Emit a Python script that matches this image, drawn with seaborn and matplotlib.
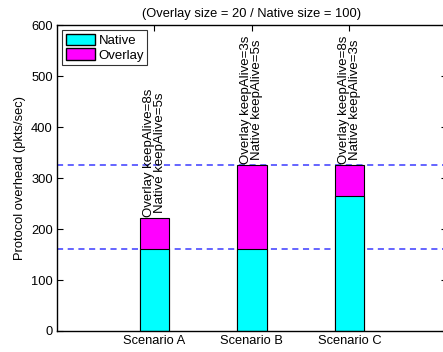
import matplotlib
matplotlib.use("Agg")
import matplotlib.pyplot as plt
import seaborn as sns
import pandas as pd
from matplotlib.patches import Patch

scenarios = ["Scenario A", "Scenario B", "Scenario C"]
native = [160, 160, 264]
overlay = [62, 166, 62]
bar_labels = [
    "Overlay keepAlive=8s\nNative keepAlive=5s",
    "Overlay keepAlive=3s\nNative keepAlive=5s",
    "Overlay keepAlive=8s\nNative keepAlive=3s",
]
ref_levels = [160, 326]
yticks = [0, 100, 200, 300, 400, 500, 600]

sns.set_style("ticks", {"text.color": "black", "axes.labelcolor": "black",
                        "xtick.color": "black", "ytick.color": "black",
                        "axes.edgecolor": "black"})
plt.rcParams["font.family"] = ["Liberation Sans", "DejaVu Sans"]
plt.rcParams["font.size"] = 9.3

df = pd.DataFrame({"scenario": scenarios, "native": native, "overlay": overlay})
df["total"] = df["native"] + df["overlay"]

fig = plt.figure(figsize=(4.43, 3.52), dpi=100)
ax = fig.add_axes([0.1287, 0.0597, 0.880, 0.869])

# Stacked bars: total (overlay colour) behind, native in front
sns.barplot(data=df, x="scenario", y="total", color="#ff00ff", saturation=1,
            width=0.3, edgecolor="black", linewidth=0.8, ax=ax)
sns.barplot(data=df, x="scenario", y="native", color="#00ffff", saturation=1,
            width=0.3, edgecolor="black", linewidth=0.8, ax=ax)

for lvl in ref_levels:
    ax.axhline(lvl, color="#3a3aff", linestyle=(0, (4.0, 3.0)), linewidth=1.1, zorder=0.5)

for i, (t, lab) in enumerate(zip(df["total"], bar_labels)):
    ax.text(i, t + 1, lab, rotation=90, ha="center", va="bottom",
            fontsize=9.5, linespacing=0.9, color="black")

ax.set_xlim(-1, 3)
ax.set_ylim(0, 600)
ax.set_yticks(yticks)
ax.set_xlabel("")
ax.set_ylabel("Protocol overhead (pkts/sec)", fontsize=9.3, labelpad=4)
ax.set_title("(Overlay size = 20 / Native size = 100)", fontsize=9.3, pad=6)
ax.tick_params(direction="in", length=4, width=0.8, top=True, right=True,
               labelsize=9.3, pad=3, colors="black")
for s in ax.spines.values():
    s.set_linewidth(1.0)
    s.set_color("black")
    s.set_visible(True)

handles = [Patch(facecolor="#00ffff", edgecolor="black", label="Native"),
           Patch(facecolor="#ff00ff", edgecolor="black", label="Overlay")]
leg = ax.legend(handles=handles, loc="upper left", fontsize=9.5, frameon=True,
                fancybox=False, edgecolor="black", borderpad=0.25,
                handlelength=2.2, handleheight=1.0, handletextpad=0.3,
                labelspacing=0.1, borderaxespad=0.4)
leg.get_frame().set_linewidth(0.8)

fig.savefig("out.png", dpi=100)
